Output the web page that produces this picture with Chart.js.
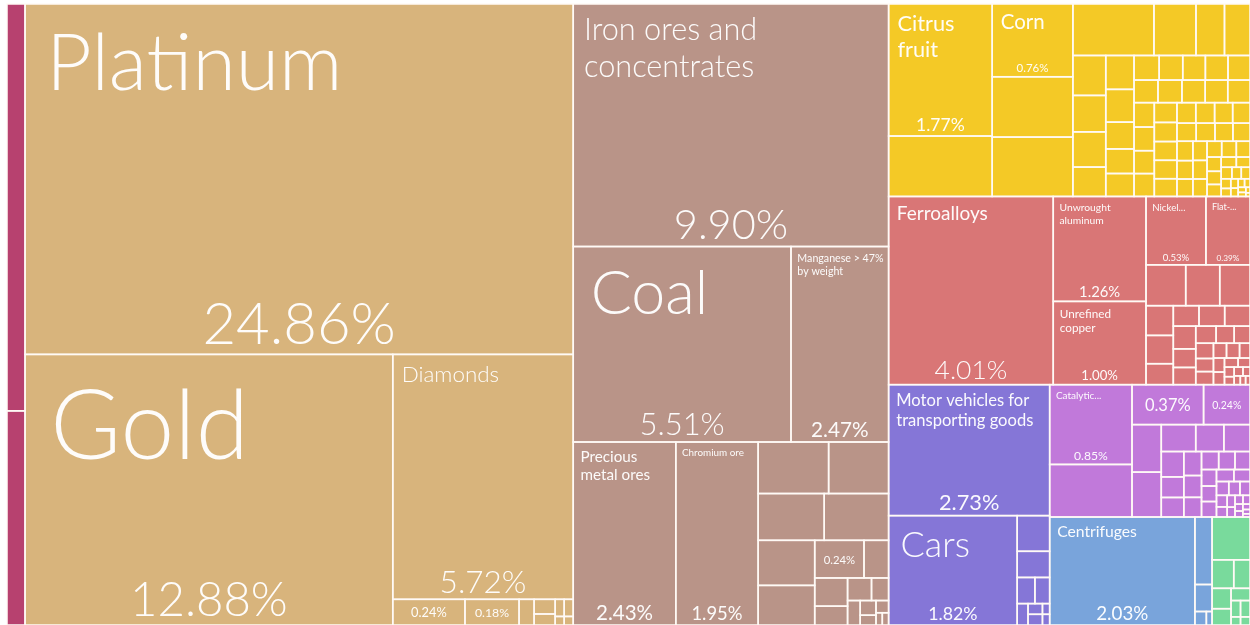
<!DOCTYPE html>
<html>
<head>
<meta charset="utf-8">
<script src="https://cdn.jsdelivr.net/npm/chart.js@4.4.1/dist/chart.umd.min.js"></script>
<style>
	html, body { margin: 0; padding: 0; background: #fff; }
</style>
</head>
<body>
<canvas id="mycanvas" width="1250" height="625"></canvas>
<script>
// share of exports (%)
// names: null = no label, '' = share only
var otherNames = [];
var otherValues = [0.95, 0.50];

var preciousNames = ['Platinum', 'Gold', 'Diamonds', '', ''];
var preciousValues = [24.86, 12.88, 5.72, 0.24, 0.18, 0.05, 0.04, 0.03, 0.02, 0.02, 0.01, 0.01];

var mineralNames = ['Iron ores and concentrates', 'Coal', 'Manganese > 47% by weight', 'Precious metal ores', 'Chromium ore',
	null, null, null, null, null, null, ''];
var mineralValues = [9.90, 5.51, 2.47, 2.43, 1.95, 0.47, 0.40, 0.40, 0.39, 0.33, 0.29, 0.24, 0.12, 0.12,
	0.08, 0.07, 0.05, 0.04, 0.03, 0.02, 0.02, 0.01, 0.01];

var vegetableNames = ['Citrus fruit', null, 'Corn'];
var vegetableValues = [1.77, 0.81, 0.76, 0.63, 0.62, 0.54, 0.28, 0.19, 0.17, 0.17, 0.155, 0.15, 0.125, 0.124,
	0.12, 0.098, 0.09, 0.084, 0.08, 0.075, 0.072, 0.072, 0.07, 0.07, 0.07, 0.068, 0.066, 0.065, 0.064, 0.062,
	0.06, 0.06, 0.058, 0.056, 0.055, 0.054, 0.052, 0.05, 0.05, 0.048, 0.046, 0.045, 0.044, 0.042, 0.04, 0.04,
	0.038, 0.036, 0.035, 0.034, 0.032, 0.03, 0.03, 0.028, 0.026, 0.024, 0.022, 0.02, 0.018, 0.016, 0.014,
	0.013, 0.012, 0.01, 0.009, 0.008, 0.007, 0.006, 0.005, 0.004, 0.003, 0.002];

var metalNames = ['Ferroalloys', 'Unwrought aluminum', 'Unrefined copper', 'Nickel...', 'Flat-...'];
var metalValues = [4.01, 1.26, 1.00, 0.53, 0.39, 0.21, 0.18, 0.16, 0.105, 0.10, 0.074, 0.068, 0.068, 0.067,
	0.066, 0.054, 0.05, 0.045, 0.04, 0.035, 0.035, 0.03, 0.03, 0.025, 0.025, 0.02, 0.02, 0.018, 0.016, 0.014,
	0.012, 0.01, 0.01, 0.008, 0.007, 0.006, 0.005];

var transportNames = ['Motor vehicles for transporting goods', 'Cars'];
var transportValues = [2.73, 1.82, 0.15, 0.11, 0.06, 0.05, 0.03, 0.02, 0.02, 0.01, 0.01];

var chemicalNames = ['Catalytic...', null, '', ''];
var chemicalValues = [0.85, 0.56, 0.37, 0.24, 0.18, 0.17, 0.12, 0.098, 0.091, 0.074, 0.06, 0.057, 0.055, 0.05,
	0.045, 0.04, 0.038, 0.035, 0.032, 0.03, 0.03, 0.027, 0.025, 0.022, 0.02, 0.018, 0.016, 0.014, 0.012, 0.01,
	0.009, 0.008, 0.007, 0.006, 0.005, 0.004, 0.003];

var machineNames = ['Centrifuges'];
var machineValues = [2.03, 0.15, 0.06, 0.02, 0.01];

var miscNames = [];
var miscValues = [0.21, 0.08, 0.06, 0.05, 0.04, 0.03, 0.02, 0.02, 0.01, 0.01];

var groupNames = ['Other', 'Precious metals', 'Mineral products', 'Vegetable products', 'Metals',
	'Transportation', 'Chemical products', 'Machines', 'Miscellaneous'];
var groupItemNames = [otherNames, preciousNames, mineralNames, vegetableNames, metalNames,
	transportNames, chemicalNames, machineNames, miscNames];
var groupItemValues = [otherValues, preciousValues, mineralValues, vegetableValues, metalValues,
	transportValues, chemicalValues, machineValues, miscValues];
var groupColors = ['#b7416f', '#d8b47c', '#b99488', '#f4c926', '#d97676',
	'#8576d7', '#c179da', '#79a4db', '#79da9c'];

function sum(a) {
	var s = 0;
	for (var i in a) s += a[i].value;
	return s;
}

// squarified treemap (ratio 1), in data units; kx/ky = pixels per unit
function squarify(nodes, x0, y0, x1, y1, kx, ky) {
	var value = sum(nodes), i0 = 0, i1 = 0, n = nodes.length;
	while (i0 < n) {
		var dx = (x1 - x0) * kx, dy = (y1 - y0) * ky;
		var sumValue = nodes[i1++].value, minV = sumValue, maxV = sumValue;
		var alpha = Math.max(dy / dx, dx / dy) / value;
		var beta = sumValue * sumValue * alpha;
		var minRatio = Math.max(maxV / beta, beta / minV);
		for (; i1 < n; ++i1) {
			var v = nodes[i1].value;
			sumValue += v;
			if (v < minV) minV = v;
			if (v > maxV) maxV = v;
			beta = sumValue * sumValue * alpha;
			var newRatio = Math.max(maxV / beta, beta / minV);
			if (newRatio > minRatio) { sumValue -= v; break; }
			minRatio = newRatio;
		}
		var row = nodes.slice(i0, i1), k;
		if (dx < dy) {
			var yb = i1 >= n ? y1 : y0 + (y1 - y0) * sumValue / value, xx = x0;
			for (k = 0; k < row.length; k++) {
				var w = (x1 - x0) * row[k].value / sumValue;
				row[k].x0 = xx; row[k].x1 = xx + w; row[k].y0 = y0; row[k].y1 = yb;
				xx += w;
			}
			y0 = yb;
		} else {
			var xb = i1 >= n ? x1 : x0 + (x1 - x0) * sumValue / value, yy = y0;
			for (k = 0; k < row.length; k++) {
				var h = (y1 - y0) * row[k].value / sumValue;
				row[k].x0 = x0; row[k].x1 = xb; row[k].y0 = yy; row[k].y1 = yy + h;
				yy += h;
			}
			x0 = xb;
		}
		value -= sumValue;
		i0 = i1;
	}
}

function byValue(a, b) { return b.value - a.value; }

function buildTree() {
	var groups = [];
	for (var g = 0; g < groupNames.length; g++) {
		var kids = [];
		for (var i = 0; i < groupItemValues[g].length; i++) {
			var nm = groupItemNames[g][i];
			kids.push({ value: groupItemValues[g][i], name: nm === undefined ? null : nm });
		}
		kids.sort(byValue);
		groups.push({ name: groupNames[g], color: groupColors[g], children: kids, value: sum(kids) });
	}
	return groups;
}

function wrapWords(ctx, text, maxW) {
	var words = text.split(' '), lines = [], line = '';
	for (var i = 0; i < words.length; i++) {
		var test = line ? line + ' ' + words[i] : words[i];
		if (line && ctx.measureText(test).width > maxW) { lines.push(line); line = words[i]; }
		else line = test;
	}
	if (line) lines.push(line);
	return lines;
}

function setFont(ctx, fs) {
	ctx.font = (fs > 22 ? '300 ' : '400 ') + fs + 'px Lato, "Open Sans", sans-serif';
}

function drawLabel(ctx, x0, y0, x1, y1, name, value) {
	var w = x1 - x0, h = y1 - y0;
	var pct = value.toFixed(2) + '%';
	ctx.fillStyle = 'rgba(255,255,255,0.96)';
	if (name) {
		// longest word takes about half the box width, then wrap to the box
		setFont(ctx, 100);
		var words = name.split(' '), longest = 0;
		for (var i = 0; i < words.length; i++) longest = Math.max(longest, ctx.measureText(words[i]).width);
		var fs = Math.min(115, 0.54 * w * 100 / longest), pad, lines;
		for (;;) {
			setFont(ctx, fs);
			pad = 4 + 0.22 * fs;
			lines = wrapWords(ctx, name, w - 1.6 * pad);
			if ((lines.length - 1) * 1.22 * fs + fs <= 0.45 * h || fs <= 9) break;
			fs -= 0.5;
		}
		if (fs < 9) {
			fs = 9;
			setFont(ctx, fs);
			pad = 4 + 0.22 * fs;
			lines = wrapWords(ctx, name, w - 1.6 * pad);
		}
		ctx.textAlign = 'left';
		ctx.textBaseline = 'top';
		for (var j = 0; j < lines.length; j++) {
			ctx.fillText(lines[j], x0 + pad, y0 + pad + j * fs * 1.22);
		}
		var ps = Math.min(58, 0.15 * Math.sqrt(w * h));
		setFont(ctx, ps);
		while (ps > 8 && ctx.measureText(pct).width > 0.85 * w) { ps -= 0.5; setFont(ctx, ps); }
		ctx.textAlign = 'center';
		ctx.textBaseline = 'alphabetic';
		ctx.fillText(pct, (x0 + x1) / 2, y1 - 3 - 0.12 * ps);
	} else if (name === '') {
		var s = 0.5 * h;
		setFont(ctx, s);
		while (s > 7 && ctx.measureText(pct).width > 0.65 * w) { s -= 0.5; setFont(ctx, s); }
		ctx.textAlign = 'center';
		ctx.textBaseline = 'middle';
		ctx.fillText(pct, (x0 + x1) / 2, (y0 + y1) / 2 + 1);
	}
}

var treemapPlugin = {
	id: 'treemap',
	afterDatasetsDraw: function(chart) {
		var ctx = chart.ctx, xs = chart.scales.x, ys = chart.scales.y;
		var kx = (xs.getPixelForValue(100) - xs.getPixelForValue(0)) / 100;
		var ky = (ys.getPixelForValue(100) - ys.getPixelForValue(0)) / 100;
		var groups = buildTree();
		var total = sum(groups);

		// the first group is cut by the left edge: it keeps a full-height column
		var first = groups[0];
		first.x0 = 0; first.x1 = 100 * first.value / total; first.y0 = 0; first.y1 = 100;
		var rest = groups.slice(1).sort(byValue);
		squarify(rest, first.x1, 0, 100, 100, kx, ky);

		var cells = [];
		groups.forEach(function(g) {
			squarify(g.children, g.x0, g.y0, g.x1, g.y1, kx, ky);
			g.children.forEach(function(c) { c.color = g.color; cells.push(c); });
		});

		ctx.save();
		cells.forEach(function(c) {
			var px0 = xs.getPixelForValue(c.x0), px1 = xs.getPixelForValue(c.x1);
			var py0 = ys.getPixelForValue(c.y0), py1 = ys.getPixelForValue(c.y1);
			c.px = [px0, py0, px1, py1];
			ctx.fillStyle = c.color;
			ctx.fillRect(px0, py0, px1 - px0, py1 - py0);
		});
		ctx.strokeStyle = 'rgba(255,250,246,0.95)';
		ctx.lineWidth = 1.6;
		cells.forEach(function(c) {
			ctx.strokeRect(c.px[0], c.px[1], c.px[2] - c.px[0], c.px[3] - c.px[1]);
		});
		cells.forEach(function(c) {
			if (c.name !== null) drawLabel(ctx, c.px[0], c.px[1], c.px[2], c.px[3], c.name, c.value);
		});
		ctx.restore();
	}
};

var ctx = document.getElementById('mycanvas');
var treeChart = new Chart(ctx, {
	type: 'scatter',
	data: { datasets: [{ label: 'Exports', data: [] }] },
	options: {
		responsive: false,
		animation: false,
		layout: { padding: { left: 7, top: 4, right: 0, bottom: 0 } },
		plugins: { legend: { display: false }, tooltip: { enabled: false } },
		scales: {
			x: { type: 'linear', min: 0, max: 100, display: false },
			y: { type: 'linear', min: 0, max: 100, reverse: true, display: false }
		}
	},
	plugins: [treemapPlugin]
});
</script>
</body>
</html>
